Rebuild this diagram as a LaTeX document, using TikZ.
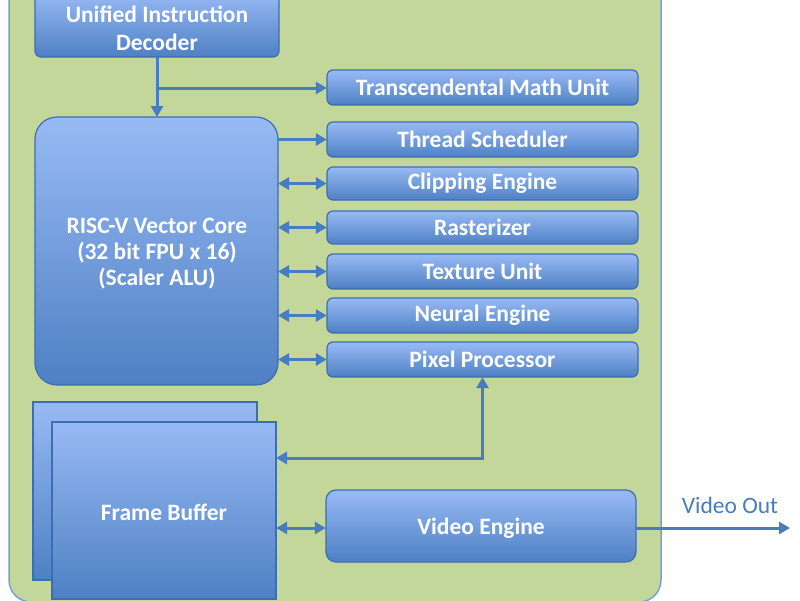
\documentclass[tikz,border=0pt]{standalone}
\usepackage{fontspec}
\setmainfont{Carlito}
\usetikzlibrary{arrows.meta}
\definecolor{bggreen}{RGB}{196,215,155}
\definecolor{bgline}{RGB}{120,160,215}
\definecolor{boxtop}{RGB}{152,186,244}
\definecolor{boxbot}{RGB}{78,128,196}
\definecolor{boxline}{RGB}{62,110,178}
\definecolor{arr}{RGB}{72,124,192}
\tikzset{
  blk/.style={draw=boxline, line width=1.2pt, top color=boxtop, bottom color=boxbot, rounded corners=6pt},
  lbl/.style={text=white, font=\bfseries\fontsize{23.5}{26}\selectfont, align=center},
  conn/.style={draw=arr, line width=3pt, -{Triangle[length=11pt,width=12pt]}},
  dconn/.style={draw=arr, line width=3pt, {Triangle[length=11pt,width=12pt]}-{Triangle[length=11pt,width=12pt]}},
}
\begin{document}
\begin{tikzpicture}[x=1pt,y=-1pt]
\useasboundingbox (0,0) rectangle (800,600);
% background panel
\fill[white] (0,0) rectangle (800,600);
\draw[bgline, line width=1.5pt, fill=bggreen, rounded corners=22pt] (9,-40) rectangle (661,602);
% decoder
\path[blk] (35,-8) rectangle (279,57);
\node[lbl, font=\bfseries\fontsize{23.5}{28}\selectfont] (dec) at (157,28) {Unified Instruction\\Decoder};
\coordinate (decb) at (157,57);
% core
\path[blk, rounded corners=22pt] (35,117) rectangle (278,385);
\coordinate (coret) at (157,117);
\node[lbl] (core) at (157,254) {RISC-V Vector Core\\(32 bit FPU x 16)\\(Scaler ALU)};
% right units
\foreach \n/\t/\yt/\yb in {tmu/Transcendental Math Unit/70/105, ts/Thread Scheduler/122/157, ce/Clipping Engine/167/200, ra/Rasterizer/211/244, tu/Texture Unit/254/289, ne/Neural Engine/298/333, pp/Pixel Processor/342/377}{
  \path[blk] (327,\yt) rectangle (638,\yb);
  \node[lbl, minimum width=311pt, minimum height={\yb-\yt}, inner sep=0pt] (\n) at (482.5,{(\yt+\yb)/2}) {\t};
}
% frame buffer
\path[draw=boxline, line width=1.2pt, top color=boxtop, bottom color=boxbot] (33,402) rectangle (257,580);
\path[draw=boxline, line width=1.2pt, top color=boxtop, bottom color=boxbot] (52,422) rectangle (276,599);
\node[lbl, minimum width=224pt, minimum height=177pt, inner sep=0pt] (fb) at (164,512) {Frame Buffer};
% video engine
\path[blk, rounded corners=10pt] (326,490) rectangle (636,562);
\node[lbl, minimum width=310pt, minimum height=72pt, inner sep=0pt] (ve) at (481,528) {Video Engine};
\coordinate (vout) at (790,528);
\node[text=arr, font=\fontsize{23.5}{26}\selectfont] (vol) at (730,505) {Video Out};
% connectors
\coordinate (br) at (157,88);
\draw[conn] (decb) -- (coret);
\draw[conn] (br) -- (tmu.west |- br);
\coordinate (cr) at (278,0);
\draw[conn] (cr |- ts.west) -- (ts.west);
\foreach \n in {ce,ra,tu,ne,pp}{
  \draw[dconn] (cr |- \n.west) -- (\n.west);
}
\coordinate (fbr) at (276,458);
\draw[dconn] (fbr) -| (pp.south);
\draw[dconn] (fb.east |- ve.west) -- (ve.west);
\draw[conn] (ve.east |- vout) -- (vout);
\end{tikzpicture}
\end{document}
